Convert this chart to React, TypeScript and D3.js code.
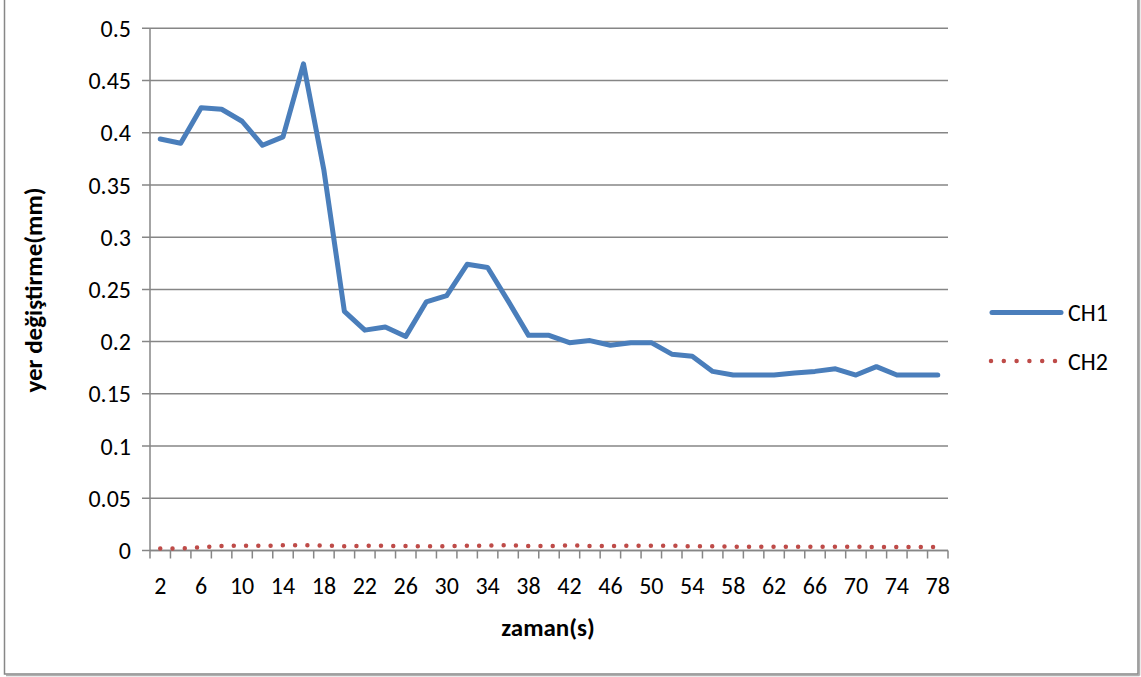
import React from "react";
import * as d3 from "d3";

const categories: number[] = [2,4,6,8,10,12,14,16,18,20,22,24,26,28,30,32,34,36,38,40,42,44,46,48,50,52,54,56,58,60,62,64,66,68,70,72,74,76,78];
const ch1: number[] = [0.394,0.390,0.424,0.4225,0.411,0.388,0.396,0.466,0.364,0.229,0.211,0.214,0.205,0.238,0.244,0.274,0.271,0.239,0.206,0.206,0.199,0.201,0.1965,0.199,0.199,0.188,0.186,0.1715,0.168,0.168,0.168,0.170,0.1715,0.174,0.168,0.176,0.168,0.168,0.168];
const ch2: number[] = [0.002,0.002,0.003,0.0043,0.0046,0.0044,0.005,0.005,0.0048,0.004,0.0045,0.0045,0.0043,0.004,0.004,0.0046,0.0046,0.005,0.0043,0.0043,0.005,0.0043,0.0043,0.0046,0.0046,0.0046,0.004,0.004,0.0037,0.0037,0.0037,0.0037,0.0037,0.0037,0.0035,0.0034,0.0034,0.0034,0.0034];
const yTicks: number[] = [0,0.05,0.1,0.15,0.2,0.25,0.3,0.35,0.4,0.45,0.5];
const seriesNames: string[] = ["CH1", "CH2"];

const W = 1141, H = 677;
const FONT = "Carlito, Lato, 'Open Sans', sans-serif";
const GRID = "#868686";
const BLUE = "#4a7ebb";
const RED = "#be4b48";
const FS = 24;

export default function App() {
  const x = d3.scaleBand<number>().domain(categories).range([150, 948]).padding(0);
  const y = d3.scaleLinear().domain([0, 0.5]).range([550.5, 28.3]);
  const cx = (c: number) => (x(c) as number) + x.bandwidth() / 2;

  const line1 = d3.line<number>().x((_, i) => cx(categories[i])).y((d) => y(d))(ch1) || "";
  const line2 = d3.line<number>().x((_, i) => cx(categories[i])).y((d) => y(d))(ch2) || "";

  const boundaries = categories.map((c) => x(c) as number).concat([948]);

  return (
    <svg width={W} height={H} style={{ position: "absolute", left: 0, top: 0, display: "block" }} fontFamily={FONT}>
      <rect x={0} y={0} width={W} height={H} fill="#fff" />
      {/* outer border with shadow */}
      <line x1={6} y1={675.5} x2={1139.5} y2={675.5} stroke="#b0b0b0" strokeWidth={1.5} />
      <line x1={1139.5} y1={0} x2={1139.5} y2={675.5} stroke="#b0b0b0" strokeWidth={1.5} />
      <rect x={4.5} y={-10} width={1133.5} height={684} fill="none" stroke="#878787" strokeWidth={1.5} />

      {/* gridlines */}
      {yTicks.map((t) => (
        <g key={t}>
          <line x1={142} x2={948} y1={y(t)} y2={y(t)} stroke={GRID} strokeWidth={1.5} />
          <text x={131} y={y(t)} dy="0.36em" textAnchor="end" fontSize={FS} fill="#000">{String(t)}</text>
        </g>
      ))}
      {/* y axis */}
      <line x1={150} x2={150} y1={y(0.5)} y2={y(0)} stroke={GRID} strokeWidth={1.5} />
      {/* x axis */}
      <line x1={150} x2={948} y1={y(0)} y2={y(0)} stroke={GRID} strokeWidth={1.5} />
      {boundaries.map((b, i) => (
        <line key={i} x1={b} x2={b} y1={y(0)} y2={y(0) + 8} stroke={GRID} strokeWidth={1.5} />
      ))}
      {categories.map((c, i) =>
        i % 2 === 0 ? (
          <text key={c} x={cx(c)} y={594} textAnchor="middle" fontSize={FS} fill="#000">{String(c)}</text>
        ) : null
      )}

      {/* series */}
      <path d={line1} fill="none" stroke={BLUE} strokeWidth={5} strokeLinejoin="round" strokeLinecap="round" />
      <path d={line2} fill="none" stroke={RED} strokeWidth={4.5} strokeLinecap="round" strokeDasharray="0 12.27" />

      {/* axis titles */}
      <text x={548} y={636} textAnchor="middle" fontSize={25} fontWeight="bold" fill="#000">zaman(s)</text>
      <text transform="translate(42,290) rotate(-90)" textAnchor="middle" fontSize={25} fontWeight="bold" fill="#000">yer değiştirme(mm)</text>

      {/* legend */}
      <line x1={992} x2={1061} y1={312.5} y2={312.5} stroke={BLUE} strokeWidth={5} strokeLinecap="round" />
      <text x={1068} y={312.5} dy="0.36em" fontSize={FS} fill="#000">{seriesNames[0]}</text>
      <line x1={991} x2={1056} y1={361} y2={361} stroke={RED} strokeWidth={4.5} strokeLinecap="round" strokeDasharray="0 12.8" />
      <text x={1068} y={361} dy="0.36em" fontSize={FS} fill="#000">{seriesNames[1]}</text>
    </svg>
  );
}
